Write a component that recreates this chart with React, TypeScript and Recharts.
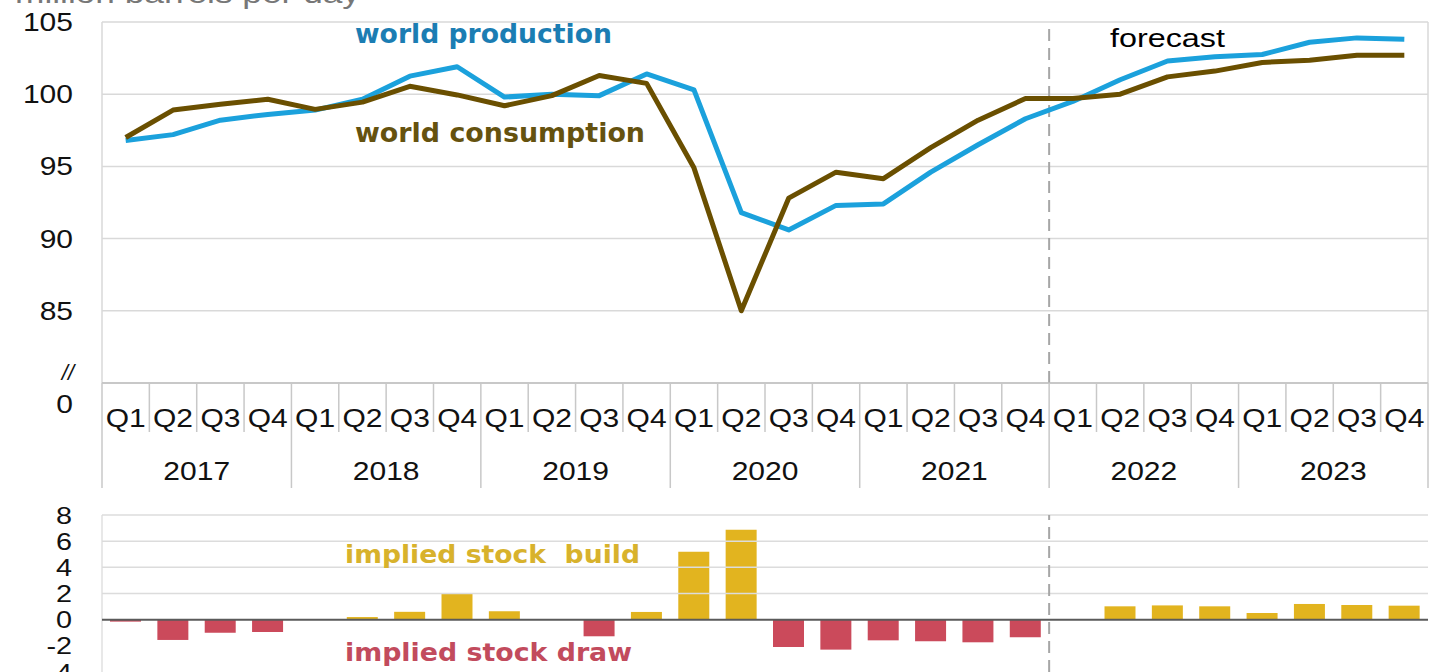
import React from 'react';
import { LineChart, Line, BarChart, Bar, Cell, XAxis, YAxis, CartesianGrid, ReferenceLine } from 'recharts';

// categories
const YEARS = ['2017', '2018', '2019', '2020', '2021', '2022', '2023'];
const QUARTERS = ['Q1', 'Q2', 'Q3', 'Q4'];
const FORECAST_FROM = '2022 Q1';

// million barrels per day
const worldProduction = [
  96.8, 97.2, 98.2, 98.6, 98.9, 99.65, 101.25, 101.9, 99.8, 100.0, 99.9, 101.4, 100.3, 91.8,
  90.6, 92.3, 92.4, 94.6, 96.5, 98.3, 99.5, 101.0, 102.3, 102.6, 102.75, 103.6, 103.9, 103.8,
];
const worldConsumption = [
  97.0, 98.9, 99.3, 99.65, 98.95, 99.45, 100.55, 99.95, 99.2, 99.9, 101.3, 100.75, 94.9, 85.0,
  92.8, 94.6, 94.15, 96.3, 98.2, 99.7, 99.7, 100.0, 101.2, 101.6, 102.2, 102.35, 102.7, 102.7,
];
const stockChange = [
  -0.15, -1.55, -1.0, -0.95, 0, 0.2, 0.6, 2.0, 0.65, 0, -1.27, 0.59, 5.2, 6.87,
  -2.09, -2.29, -1.58, -1.65, -1.73, -1.35, 0, 1.02, 1.09, 1.02, 0.51, 1.2, 1.12, 1.07,
];

// tick labels
const balanceTicks = [85, 90, 95, 100, 105];
const stockTicks = [-4, -2, 0, 2, 4, 6, 8];
const stockGrid = [2, 4, 6, 8];

const W = 1430;
const AXIS_W = 102;
const RIGHT = 2;
const HALF_BAND = (W - AXIS_W - RIGHT) / (YEARS.length * QUARTERS.length) / 2;

const BLUE = '#1ba1dc';
const BROWN = '#6a4f00';
const YELLOW = '#e2b41f';
const RED = '#cb4a5b';
const SEP = '#c8c8c8';

const rows = YEARS.flatMap((year, yi) =>
  QUARTERS.map((q, qi) => {
    const i = yi * QUARTERS.length + qi;
    return {
      i,
      year,
      q,
      production: worldProduction[i],
      consumption: worldConsumption[i],
      stock: stockChange[i],
    };
  })
);
const forecastIndex = rows.findIndex((r) => `${r.year} ${r.q}` === FORECAST_FROM);
const indexTicks = rows.map((r) => r.i);
const xDomain = [-0.5, rows.length - 0.5];

const ARIAL = "'Liberation Sans', Arial, sans-serif";
const VERDANA = "'DejaVu Sans', Verdana, sans-serif";

// the source looks horizontally stretched, so the Arial text is widened a bit
function SText({ x, y, size = 25, anchor = 'middle', fill = '#111', children }: any) {
  return (
    <text
      transform={`translate(${x} ${y}) scale(1.2 1)`}
      textAnchor={anchor}
      fontFamily={ARIAL}
      fontSize={size}
      fill={fill}
    >
      {children}
    </text>
  );
}

function QuarterTick(props: any) {
  const { x, y, payload } = props;
  const row = rows[payload.value];
  if (!row) return <g />;
  const left = x - HALF_BAND;
  return (
    <g>
      <line x1={left} x2={left} y1={y} y2={y + (row.q === 'Q1' ? 105 : 49)} stroke={SEP} strokeWidth={1.5} />
      {row.i === rows.length - 1 && (
        <line x1={x + HALF_BAND} x2={x + HALF_BAND} y1={y} y2={y + 105} stroke={SEP} strokeWidth={1.5} />
      )}
      <SText x={x} y={y + 44}>{row.q}</SText>
      {row.q === 'Q3' && <SText x={left} y={y + 97}>{row.year}</SText>}
    </g>
  );
}

function BalanceTick(props: any) {
  const { x, y, payload } = props;
  return <SText x={x - 29} y={y + 9} anchor="end">{payload.value}</SText>;
}

function StockTick(props: any) {
  const { x, y, payload } = props;
  return <SText x={x - 30} y={y + 8.5} size={24} anchor="end">{payload.value}</SText>;
}

export default function App() {
  return (
    <div style={{ position: 'relative', width: W, height: 672, overflow: 'hidden', background: '#fff' }}>
      <style>{`body{margin:0;overflow:hidden;background:#fff}`}</style>

      <div style={{ position: 'absolute', left: 0, top: 0 }}>
        <LineChart width={W} height={500} data={rows} margin={{ top: 22, right: RIGHT, bottom: 0, left: 0 }}>
          <CartesianGrid stroke="#d9d9d9" strokeWidth={1.5} verticalPoints={[AXIS_W, W - RIGHT]} />
          <XAxis
            type="number"
            dataKey="i"
            domain={xDomain}
            ticks={indexTicks}
            interval={0}
            height={117}
            tickSize={0}
            tickMargin={0}
            tickLine={false}
            axisLine={{ stroke: '#bfbfbf', strokeWidth: 1.5 }}
            tick={(p: any) => <QuarterTick {...p} />}
          />
          <YAxis
            domain={[80, 105]}
            ticks={balanceTicks}
            interval={0}
            width={AXIS_W}
            axisLine={false}
            tickLine={false}
            tickSize={0}
            tickMargin={0}
            tick={(p: any) => <BalanceTick {...p} />}
          />
          <ReferenceLine x={forecastIndex - 0.5} stroke="#a6a6a6" strokeWidth={2} strokeDasharray="12 7" />
          <Line
            type="linear"
            dataKey="production"
            stroke={BLUE}
            strokeWidth={5}
            strokeLinejoin="round"
            dot={false}
            activeDot={false}
            isAnimationActive={false}
          />
          <Line
            type="linear"
            dataKey="consumption"
            stroke={BROWN}
            strokeWidth={5}
            strokeLinejoin="round"
            dot={false}
            activeDot={false}
            isAnimationActive={false}
          />
        </LineChart>
      </div>

      <div style={{ position: 'absolute', left: 0, top: 500 }}>
        <BarChart width={W} height={172} data={rows} margin={{ top: 15, right: RIGHT, bottom: 0, left: 0 }}>
          <CartesianGrid horizontal={false} verticalPoints={[AXIS_W]} stroke="#e0e0e0" strokeWidth={1.5} />
          <XAxis type="number" dataKey="i" domain={xDomain} hide />
          <YAxis
            domain={[-4, 8]}
            ticks={stockTicks}
            interval={0}
            width={AXIS_W}
            axisLine={false}
            tickLine={false}
            tickSize={0}
            tickMargin={0}
            tick={(p: any) => <StockTick {...p} />}
          />
          {stockGrid.map((v) => (
            <ReferenceLine key={v} y={v} stroke="#dcdcdc" strokeWidth={1.5} />
          ))}
          <ReferenceLine x={forecastIndex - 0.5} stroke="#a6a6a6" strokeWidth={2} strokeDasharray="12 7" />
          <Bar dataKey="stock" barSize={31} isAnimationActive={false}>
            {rows.map((r) => (
              <Cell key={r.i} fill={r.stock < 0 ? RED : YELLOW} />
            ))}
          </Bar>
          <ReferenceLine y={0} stroke="#5a5a5a" strokeWidth={2} />
        </BarChart>
      </div>

      <svg
        width={W}
        height={672}
        style={{ position: 'absolute', left: 0, top: 0, pointerEvents: 'none' }}
      >
        <text x={15} y={3} fontFamily={ARIAL} fontSize={28} fill="#777" textLength={345} lengthAdjust="spacingAndGlyphs">
          million barrels per day
        </text>
        <text x={355} y={43} fontFamily={VERDANA} fontWeight="bold" fontSize={26} fill="#1b7db3" textLength={257} lengthAdjust="spacingAndGlyphs">
          world production
        </text>
        <text x={355} y={142} fontFamily={VERDANA} fontWeight="bold" fontSize={26} fill="#65520f" textLength={290} lengthAdjust="spacingAndGlyphs">
          world consumption
        </text>
        <text x={1110} y={47} fontFamily={ARIAL} fontSize={26} fill="#000" textLength={115} lengthAdjust="spacingAndGlyphs">
          forecast
        </text>
        <text x={345} y={563} fontFamily={VERDANA} fontWeight="bold" fontSize={25} fill="#d8b22c" textLength={295} lengthAdjust="spacingAndGlyphs" style={{ whiteSpace: 'pre' }}>
          implied stock  build
        </text>
        <text x={345} y={661} fontFamily={VERDANA} fontWeight="bold" fontSize={25} fill="#c24b5d" textLength={287} lengthAdjust="spacingAndGlyphs">
          implied stock draw
        </text>
        <text x={74} y={380} fontFamily={ARIAL} fontStyle="italic" fontSize={22} fill="#111" textAnchor="end">
          //
        </text>
        <SText x={73} y={413} anchor="end">0</SText>
      </svg>
    </div>
  );
}
